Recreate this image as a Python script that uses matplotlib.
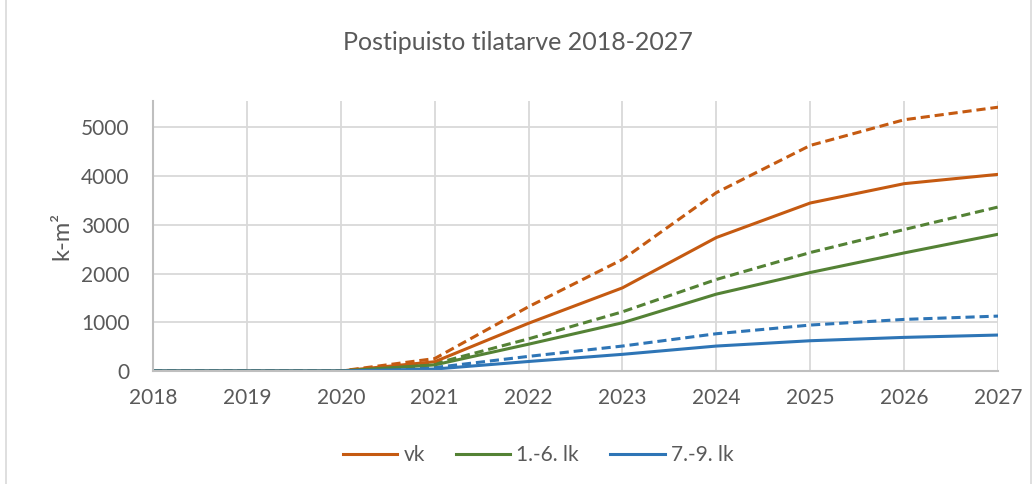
import matplotlib.pyplot as plt
from matplotlib.patches import Rectangle

years = [2018, 2019, 2020, 2021, 2022, 2023, 2024, 2025, 2026, 2027]

vk = [0, 0, 0, 190, 980, 1707, 2740, 3449, 3846, 4037]
vk_max = [0, 0, 0, 255, 1320, 2289, 3662, 4631, 5158, 5416]
lk16 = [0, 0, 0, 125, 550, 990, 1578, 2022, 2424, 2807]
lk16_max = [0, 0, 0, 150, 660, 1215, 1879, 2432, 2904, 3367]
lk79 = [0, 0, 0, 40, 195, 342, 512, 621, 690, 738]
lk79_max = [0, 0, 0, 70, 300, 512, 765, 943, 1059, 1127]

orange = '#C55A11'
green = '#548235'
blue = '#2E75B6'
text_col = '#595959'

plt.rcParams['font.family'] = ['Lato', 'DejaVu Sans']

fig = plt.figure(figsize=(10.35, 4.84), dpi=100)
ax = fig.add_axes([0.1478, 0.2335, 0.8165, 0.5585])

lw = 2.2
dash = (3, 1.6)
ax.plot(years, vk_max, color=orange, lw=lw, dashes=dash)
ax.plot(years, lk16_max, color=green, lw=lw, dashes=dash)
ax.plot(years, lk79_max, color=blue, lw=lw, dashes=dash)
ax.plot(years, vk, color=orange, lw=lw, label='vk')
ax.plot(years, lk16, color=green, lw=lw, label='1.-6. lk')
ax.plot(years, lk79, color=blue, lw=lw, label='7.-9. lk')

ax.set_xlim(2018, 2027)
ax.set_ylim(0, 5550)
ax.set_xticks(years)
ax.set_yticks([0, 1000, 2000, 3000, 4000, 5000])
ax.grid(True, color='#d9d9d9', lw=1.3)
ax.set_axisbelow(True)
for s in ['top', 'right']:
    ax.spines[s].set_visible(False)
for s in ['left', 'bottom']:
    ax.spines[s].set_color('#bfbfbf')
    ax.spines[s].set_linewidth(1.5)
ax.tick_params(length=0, labelsize=15, labelcolor=text_col)
ax.tick_params(axis='x', pad=12)
ax.tick_params(axis='y', pad=17)
ax.set_ylabel('k-m²', fontsize=17, color=text_col, labelpad=6)

fig.suptitle('Postipuisto tilatarve 2018-2027', x=0.5, y=0.935, fontsize=18, color=text_col)

fig.legend(loc='lower center', bbox_to_anchor=(0.52, 0.0), ncol=3, frameon=False,
           fontsize=15, labelcolor=text_col, handlelength=2.6, handletextpad=0.3,
           columnspacing=1.5)

fig.patches.append(Rectangle((0.006, -0.01), 0.99, 1.02, transform=fig.transFigure,
                             fill=False, edgecolor='#d9d9d9', lw=1.2))

fig.savefig('out.png', dpi=100)
